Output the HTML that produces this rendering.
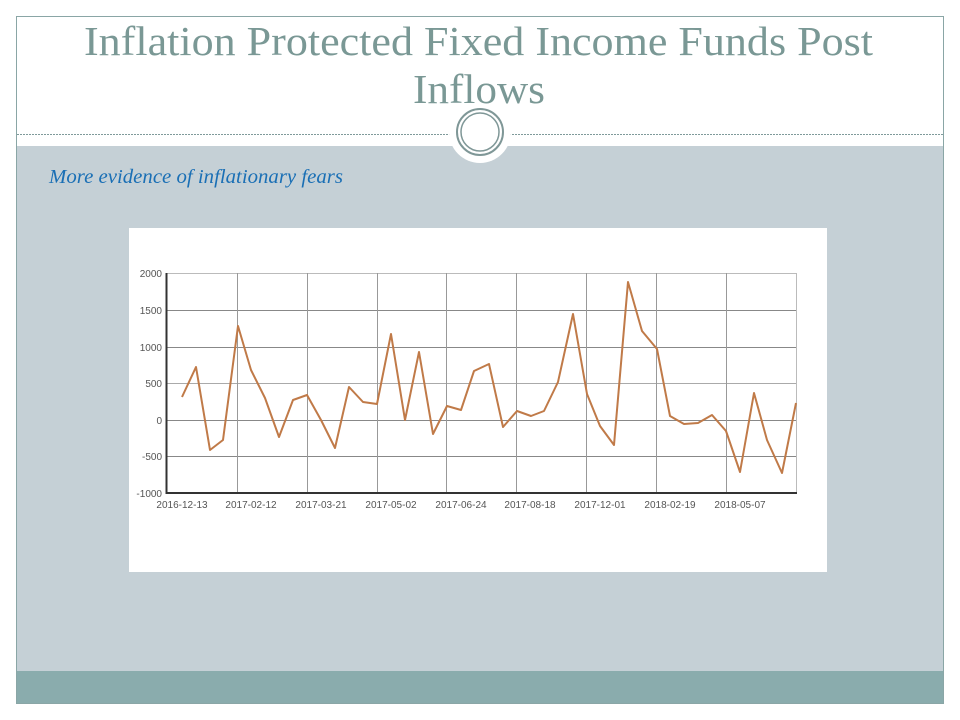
<!DOCTYPE html>
<html><head><meta charset="utf-8"><style>
html,body{margin:0;padding:0;background:#fff;}
body{width:960px;height:720px;position:relative;overflow:hidden;font-family:"Liberation Sans",sans-serif;}
</style></head><body>
<svg width="960" height="720" xmlns="http://www.w3.org/2000/svg" style="position:absolute;left:0;top:0">
<rect x="16.5" y="16.5" width="927" height="687" fill="#fff" stroke="#8aa6a6"/>
<rect x="17" y="146" width="926" height="525" fill="#c5d0d6"/>
<rect x="17" y="671" width="926" height="32" fill="#8aacad"/>
<line x1="17" y1="134.5" x2="943" y2="134.5" stroke="#7f9a9a" stroke-dasharray="2,1"/>
<circle cx="480" cy="132" r="31" fill="#fff"/>
<circle cx="480" cy="132" r="23" fill="none" stroke="#7f9797" stroke-width="2"/>
<circle cx="480" cy="132" r="19" fill="none" stroke="#7f9797" stroke-width="1.5"/>
<text x="84" y="55" textLength="789" lengthAdjust="spacingAndGlyphs" font-family="Liberation Serif, serif" font-size="41" fill="#7a9895">Inflation Protected Fixed Income Funds Post</text>
<text x="413" y="103" textLength="132" lengthAdjust="spacingAndGlyphs" font-family="Liberation Serif, serif" font-size="41" fill="#7a9895">Inflows</text>
<text x="49" y="183" textLength="294" lengthAdjust="spacingAndGlyphs" font-family="Liberation Serif, serif" font-style="italic" font-size="20" fill="#1a6fb5">More evidence of inflationary fears</text>
<rect x="129" y="228" width="698" height="344" fill="#fff"/>
<g stroke="#999" stroke-width="1">
<line x1="167" y1="273.5" x2="796" y2="273.5" stroke="#bbb"/>
<line x1="167" y1="310.5" x2="796" y2="310.5" stroke="#888"/>
<line x1="167" y1="347.5" x2="796" y2="347.5" stroke="#888"/>
<line x1="167" y1="383.5" x2="796" y2="383.5" stroke="#aaa"/>
<line x1="167" y1="420.5" x2="796" y2="420.5" stroke="#888"/>
<line x1="167" y1="456.5" x2="796" y2="456.5" stroke="#888"/>
<line x1="237.5" y1="273" x2="237.5" y2="493"/>
<line x1="307.5" y1="273" x2="307.5" y2="493"/>
<line x1="377.5" y1="273" x2="377.5" y2="493"/>
<line x1="446.5" y1="273" x2="446.5" y2="493"/>
<line x1="516.5" y1="273" x2="516.5" y2="493"/>
<line x1="586.5" y1="273" x2="586.5" y2="493"/>
<line x1="656.5" y1="273" x2="656.5" y2="493"/>
<line x1="726.5" y1="273" x2="726.5" y2="493"/>
<line x1="796.5" y1="273" x2="796.5" y2="493" stroke="#bbb"/>
</g>
<line x1="166.5" y1="273" x2="166.5" y2="494" stroke="#333" stroke-width="2"/>
<line x1="166" y1="493" x2="797" y2="493" stroke="#333" stroke-width="2"/>
<g font-size="10" fill="#555" text-anchor="end">
<text x="162" y="277">2000</text><text x="162" y="314">1500</text><text x="162" y="351">1000</text>
<text x="162" y="387">500</text><text x="162" y="424">0</text><text x="162" y="460">-500</text><text x="162" y="497">-1000</text>
</g>
<g font-size="10" fill="#555" text-anchor="middle">
<text x="182" y="508">2016-12-13</text><text x="251" y="508">2017-02-12</text><text x="321" y="508">2017-03-21</text>
<text x="391" y="508">2017-05-02</text><text x="461" y="508">2017-06-24</text><text x="530" y="508">2017-08-18</text>
<text x="600" y="508">2017-12-01</text><text x="670" y="508">2018-02-19</text><text x="740" y="508">2018-05-07</text>
</g>
<polyline fill="none" stroke="#c07a48" stroke-width="2" stroke-linejoin="round" points="182,397 196,367 210,450 223,440 238,326 251,370 265,398 279,437 293,400 307,395 321,420 335,448 349,387 363,402 377,404 391,334 405,420 419,352 433,434 447,406 461,410 474,371 489,364 503,427 517,411 531,416 544,411 558,382 573,314 587,394 600,426 614,445 628,282 642,331 657,349 670,416 684,424 698,423 712,415 726,431 740,472 754,393 767,440 782,473 796,403"/>
</svg>
</body></html>
